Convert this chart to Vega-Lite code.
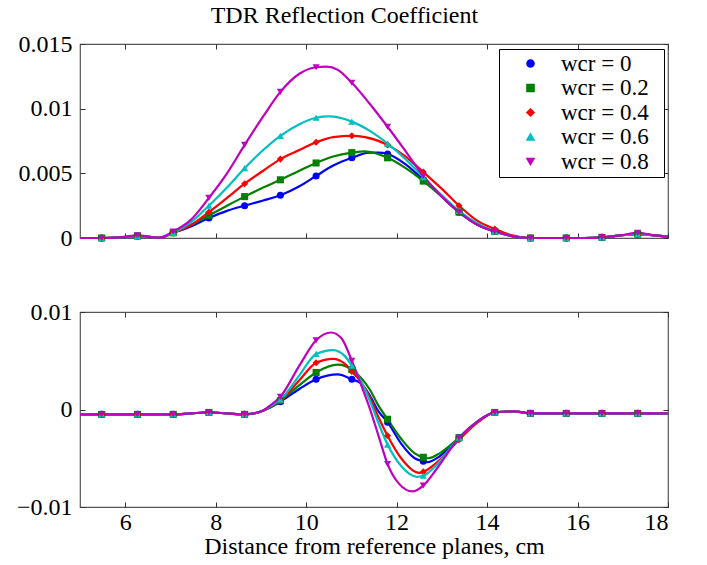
{
  "$schema": "https://vega.github.io/schema/vega-lite/v6.json",
  "padding": {"left": 15, "top": 4, "right": 39, "bottom": 2},
  "background": "white",
  "title": {"text": "TDR Reflection Coefficient", "anchor": "middle", "font": "Times New Roman", "fontSize": 24, "fontWeight": "normal", "color": "#000", "offset": 3},
  "config": {
    "font": "Times New Roman",
    "view": {"stroke": "#555", "strokeWidth": 1.2},
    "axis": {"grid": false, "domain": false, "tickColor": "#333", "tickSize": -5, "tickWidth": 1, "labelFontSize": 24, "labelColor": "#000", "titleFontSize": 24, "titleFontWeight": "normal", "titleColor": "#000"},
    "legend": {"orient": "none", "legendX": 419, "legendY": 5, "title": null, "labelFontSize": 23, "labelColor": "#000", "symbolSize": 50, "strokeColor": "#000", "fillColor": "#fff", "padding": 3, "rowPadding": 0.5, "labelOffset": 19, "symbolOffset": 17}
  },
  "spacing": 48,
  "datasets": {
    "top": [
      {"w":"0","x":5,"y":0},{"w":"0","x":5.48,"y":0,"m":1},{"w":"0","x":5.9,"y":0.00005},{"w":"0","x":6.27,"y":0.00015,"m":1},{"w":"0","x":6.75,"y":0.00002},{"w":"0","x":7.06,"y":0.0004,"m":1},{"w":"0","x":7.45,"y":0.0009},{"w":"0","x":7.85,"y":0.00155,"m":1},{"w":"0","x":8.25,"y":0.0021},{"w":"0","x":8.64,"y":0.0025,"m":1},{"w":"0","x":9.05,"y":0.0029},{"w":"0","x":9.43,"y":0.0033,"m":1},{"w":"0","x":9.85,"y":0.004},{"w":"0","x":10.22,"y":0.0048,"m":1},{"w":"0","x":10.6,"y":0.0056},{"w":"0","x":11.01,"y":0.0062,"m":1},{"w":"0","x":11.4,"y":0.0066},{"w":"0","x":11.6,"y":0.0066},{"w":"0","x":11.8,"y":0.0065,"m":1},{"w":"0","x":12.2,"y":0.0057},{"w":"0","x":12.59,"y":0.0045,"m":1},{"w":"0","x":13.0,"y":0.0032},{"w":"0","x":13.38,"y":0.002,"m":1},{"w":"0","x":13.8,"y":0.001},{"w":"0","x":14.17,"y":0.0005,"m":1},{"w":"0","x":14.55,"y":0.00015},{"w":"0","x":14.96,"y":0,"m":1},{"w":"0","x":15.35,"y":0},{"w":"0","x":15.75,"y":0,"m":1},{"w":"0","x":16.15,"y":0},{"w":"0","x":16.54,"y":0.00005,"m":1},{"w":"0","x":16.95,"y":0.0002},{"w":"0","x":17.33,"y":0.0003,"m":1},{"w":"0","x":17.7,"y":0.0002},{"w":"0","x":18,"y":0.0001},

      {"w":"0.2","x":5,"y":0},{"w":"0.2","x":5.48,"y":0,"m":1},{"w":"0.2","x":5.9,"y":0.00005},{"w":"0.2","x":6.27,"y":0.00015,"m":1},{"w":"0.2","x":6.75,"y":0.00002},{"w":"0.2","x":7.06,"y":0.0004,"m":1},{"w":"0.2","x":7.45,"y":0.001},{"w":"0.2","x":7.85,"y":0.00175,"m":1},{"w":"0.2","x":8.25,"y":0.0025},{"w":"0.2","x":8.64,"y":0.0032,"m":1},{"w":"0.2","x":9.05,"y":0.0039},{"w":"0.2","x":9.43,"y":0.0045,"m":1},{"w":"0.2","x":9.85,"y":0.0052},{"w":"0.2","x":10.22,"y":0.0058,"m":1},{"w":"0.2","x":10.6,"y":0.0063},{"w":"0.2","x":11.01,"y":0.0066,"m":1},{"w":"0.2","x":11.3,"y":0.0067},{"w":"0.2","x":11.8,"y":0.0062,"m":1},{"w":"0.2","x":12.2,"y":0.0054},{"w":"0.2","x":12.59,"y":0.0044,"m":1},{"w":"0.2","x":13.0,"y":0.0032},{"w":"0.2","x":13.38,"y":0.002,"m":1},{"w":"0.2","x":13.8,"y":0.001},{"w":"0.2","x":14.17,"y":0.0005,"m":1},{"w":"0.2","x":14.55,"y":0.00015},{"w":"0.2","x":14.96,"y":0,"m":1},{"w":"0.2","x":15.35,"y":0},{"w":"0.2","x":15.75,"y":0,"m":1},{"w":"0.2","x":16.15,"y":0},{"w":"0.2","x":16.54,"y":0.00005,"m":1},{"w":"0.2","x":16.95,"y":0.0002},{"w":"0.2","x":17.33,"y":0.0003,"m":1},{"w":"0.2","x":17.7,"y":0.0002},{"w":"0.2","x":18,"y":0.0001},

      {"w":"0.4","x":5,"y":0},{"w":"0.4","x":5.48,"y":0,"m":1},{"w":"0.4","x":5.9,"y":0.00005},{"w":"0.4","x":6.27,"y":0.00015,"m":1},{"w":"0.4","x":6.75,"y":0.00002},{"w":"0.4","x":7.06,"y":0.0004,"m":1},{"w":"0.4","x":7.45,"y":0.001},{"w":"0.4","x":7.85,"y":0.002,"m":1},{"w":"0.4","x":8.25,"y":0.0031},{"w":"0.4","x":8.64,"y":0.0042,"m":1},{"w":"0.4","x":9.05,"y":0.0052},{"w":"0.4","x":9.43,"y":0.0061,"m":1},{"w":"0.4","x":9.85,"y":0.0068},{"w":"0.4","x":10.22,"y":0.0074,"m":1},{"w":"0.4","x":10.6,"y":0.0078},{"w":"0.4","x":11.01,"y":0.0079,"m":1},{"w":"0.4","x":11.3,"y":0.0078},{"w":"0.4","x":11.8,"y":0.0072,"m":1},{"w":"0.4","x":12.2,"y":0.0063},{"w":"0.4","x":12.59,"y":0.0051,"m":1},{"w":"0.4","x":13.0,"y":0.0038},{"w":"0.4","x":13.38,"y":0.0025,"m":1},{"w":"0.4","x":13.8,"y":0.0013},{"w":"0.4","x":14.17,"y":0.0007,"m":1},{"w":"0.4","x":14.55,"y":0.0002},{"w":"0.4","x":14.96,"y":0,"m":1},{"w":"0.4","x":15.35,"y":0},{"w":"0.4","x":15.75,"y":0,"m":1},{"w":"0.4","x":16.15,"y":0},{"w":"0.4","x":16.54,"y":0.00005,"m":1},{"w":"0.4","x":16.95,"y":0.0002},{"w":"0.4","x":17.33,"y":0.0003,"m":1},{"w":"0.4","x":17.7,"y":0.0002},{"w":"0.4","x":18,"y":0.0001},

      {"w":"0.6","x":5,"y":0},{"w":"0.6","x":5.48,"y":0,"m":1},{"w":"0.6","x":5.9,"y":0.00005},{"w":"0.6","x":6.27,"y":0.00015,"m":1},{"w":"0.6","x":6.75,"y":0.00002},{"w":"0.6","x":7.06,"y":0.0004,"m":1},{"w":"0.6","x":7.45,"y":0.0012},{"w":"0.6","x":7.85,"y":0.0025,"m":1},{"w":"0.6","x":8.25,"y":0.0039},{"w":"0.6","x":8.64,"y":0.0054,"m":1},{"w":"0.6","x":9.05,"y":0.0068},{"w":"0.6","x":9.43,"y":0.0079,"m":1},{"w":"0.6","x":9.85,"y":0.0088},{"w":"0.6","x":10.22,"y":0.0093,"m":1},{"w":"0.6","x":10.5,"y":0.0094},{"w":"0.6","x":11.01,"y":0.009,"m":1},{"w":"0.6","x":11.4,"y":0.0083},{"w":"0.6","x":11.8,"y":0.0073,"m":1},{"w":"0.6","x":12.2,"y":0.0061},{"w":"0.6","x":12.59,"y":0.0047,"m":1},{"w":"0.6","x":13.0,"y":0.0033},{"w":"0.6","x":13.38,"y":0.0021,"m":1},{"w":"0.6","x":13.8,"y":0.0011},{"w":"0.6","x":14.17,"y":0.0005,"m":1},{"w":"0.6","x":14.55,"y":0.00015},{"w":"0.6","x":14.96,"y":0,"m":1},{"w":"0.6","x":15.35,"y":0},{"w":"0.6","x":15.75,"y":0,"m":1},{"w":"0.6","x":16.15,"y":0},{"w":"0.6","x":16.54,"y":0.00005,"m":1},{"w":"0.6","x":16.95,"y":0.0002},{"w":"0.6","x":17.33,"y":0.0003,"m":1},{"w":"0.6","x":17.7,"y":0.0002},{"w":"0.6","x":18,"y":0.0001},

      {"w":"0.8","x":5,"y":0},{"w":"0.8","x":5.48,"y":0,"m":1},{"w":"0.8","x":5.9,"y":0.00005},{"w":"0.8","x":6.27,"y":0.0002,"m":1},{"w":"0.8","x":6.75,"y":0.00002},{"w":"0.8","x":7.06,"y":0.0005,"m":1},{"w":"0.8","x":7.45,"y":0.0014},{"w":"0.8","x":7.85,"y":0.0031,"m":1},{"w":"0.8","x":8.25,"y":0.005},{"w":"0.8","x":8.64,"y":0.0072,"m":1},{"w":"0.8","x":9.05,"y":0.0094},{"w":"0.8","x":9.43,"y":0.0113,"m":1},{"w":"0.8","x":9.85,"y":0.0127},{"w":"0.8","x":10.22,"y":0.0132,"m":1},{"w":"0.8","x":10.45,"y":0.01325},{"w":"0.8","x":10.7,"y":0.013},{"w":"0.8","x":11.01,"y":0.012,"m":1},{"w":"0.8","x":11.4,"y":0.0104},{"w":"0.8","x":11.8,"y":0.0086,"m":1},{"w":"0.8","x":12.2,"y":0.0067},{"w":"0.8","x":12.59,"y":0.0048,"m":1},{"w":"0.8","x":13.0,"y":0.0032},{"w":"0.8","x":13.38,"y":0.002,"m":1},{"w":"0.8","x":13.8,"y":0.001},{"w":"0.8","x":14.17,"y":0.0005,"m":1},{"w":"0.8","x":14.55,"y":0.00015},{"w":"0.8","x":14.96,"y":0,"m":1},{"w":"0.8","x":15.35,"y":0},{"w":"0.8","x":15.75,"y":0,"m":1},{"w":"0.8","x":16.15,"y":0},{"w":"0.8","x":16.54,"y":0.00005,"m":1},{"w":"0.8","x":16.95,"y":0.0002},{"w":"0.8","x":17.33,"y":0.0004,"m":1},{"w":"0.8","x":17.7,"y":0.0002},{"w":"0.8","x":18,"y":0.0001}
    ],
    "bot": [
      {"w":"0","x":5,"y":-0.0005},{"w":"0","x":5.48,"y":-0.0005,"m":1},{"w":"0","x":5.9,"y":-0.0005},{"w":"0","x":6.27,"y":-0.0005,"m":1},{"w":"0","x":6.7,"y":-0.0005},{"w":"0","x":7.06,"y":-0.0005,"m":1},{"w":"0","x":7.45,"y":-0.0004},{"w":"0","x":7.85,"y":-0.0003,"m":1},{"w":"0","x":8.25,"y":-0.0004},{"w":"0","x":8.64,"y":-0.0005,"m":1},{"w":"0","x":9.0,"y":-0.0002},{"w":"0","x":9.2,"y":0.0002},{"w":"0","x":9.43,"y":0.0008,"m":1},{"w":"0","x":9.85,"y":0.0021},{"w":"0","x":10.22,"y":0.0031,"m":1},{"w":"0","x":10.7,"y":0.0036},{"w":"0","x":11.01,"y":0.0031,"m":1},{"w":"0","x":11.2,"y":0.0027},{"w":"0","x":11.4,"y":0.0015},{"w":"0","x":11.6,"y":-0.0002},{"w":"0","x":11.8,"y":-0.0013,"m":1},{"w":"0","x":12.1,"y":-0.0035},{"w":"0","x":12.4,"y":-0.005},{"w":"0","x":12.59,"y":-0.0053,"m":1},{"w":"0","x":12.68,"y":-0.0054},{"w":"0","x":12.95,"y":-0.0048},{"w":"0","x":13.38,"y":-0.0029,"m":1},{"w":"0","x":13.8,"y":-0.0012},{"w":"0","x":14.17,"y":-0.0003,"m":1},{"w":"0","x":14.6,"y":-0.0002},{"w":"0","x":14.96,"y":-0.0004,"m":1},{"w":"0","x":15.35,"y":-0.0004},{"w":"0","x":15.75,"y":-0.0004,"m":1},{"w":"0","x":16.15,"y":-0.0004},{"w":"0","x":16.54,"y":-0.0004,"m":1},{"w":"0","x":16.95,"y":-0.0004},{"w":"0","x":17.33,"y":-0.0004,"m":1},{"w":"0","x":18,"y":-0.0004},

      {"w":"0.2","x":5,"y":-0.0005},{"w":"0.2","x":5.48,"y":-0.0005,"m":1},{"w":"0.2","x":5.9,"y":-0.0005},{"w":"0.2","x":6.27,"y":-0.0005,"m":1},{"w":"0.2","x":6.7,"y":-0.0005},{"w":"0.2","x":7.06,"y":-0.0005,"m":1},{"w":"0.2","x":7.45,"y":-0.0004},{"w":"0.2","x":7.85,"y":-0.0003,"m":1},{"w":"0.2","x":8.25,"y":-0.0004},{"w":"0.2","x":8.64,"y":-0.0005,"m":1},{"w":"0.2","x":9.0,"y":-0.0002},{"w":"0.2","x":9.2,"y":0.0002},{"w":"0.2","x":9.43,"y":0.0009,"m":1},{"w":"0.2","x":9.85,"y":0.0025},{"w":"0.2","x":10.22,"y":0.0038,"m":1},{"w":"0.2","x":10.7,"y":0.0046},{"w":"0.2","x":11.01,"y":0.0041,"m":1},{"w":"0.2","x":11.2,"y":0.0033},{"w":"0.2","x":11.4,"y":0.0021},{"w":"0.2","x":11.6,"y":0.0004},{"w":"0.2","x":11.8,"y":-0.001,"m":1},{"w":"0.2","x":12.1,"y":-0.003},{"w":"0.2","x":12.4,"y":-0.0045},{"w":"0.2","x":12.59,"y":-0.0049,"m":1},{"w":"0.2","x":12.7,"y":-0.005},{"w":"0.2","x":12.95,"y":-0.0045},{"w":"0.2","x":13.38,"y":-0.0029,"m":1},{"w":"0.2","x":13.8,"y":-0.0012},{"w":"0.2","x":14.17,"y":-0.0003,"m":1},{"w":"0.2","x":14.6,"y":-0.0002},{"w":"0.2","x":14.96,"y":-0.0004,"m":1},{"w":"0.2","x":15.35,"y":-0.0004},{"w":"0.2","x":15.75,"y":-0.0004,"m":1},{"w":"0.2","x":16.15,"y":-0.0004},{"w":"0.2","x":16.54,"y":-0.0004,"m":1},{"w":"0.2","x":16.95,"y":-0.0004},{"w":"0.2","x":17.33,"y":-0.0004,"m":1},{"w":"0.2","x":18,"y":-0.0004},

      {"w":"0.4","x":5,"y":-0.0005},{"w":"0.4","x":5.48,"y":-0.0005,"m":1},{"w":"0.4","x":5.9,"y":-0.0005},{"w":"0.4","x":6.27,"y":-0.0005,"m":1},{"w":"0.4","x":6.7,"y":-0.0005},{"w":"0.4","x":7.06,"y":-0.0005,"m":1},{"w":"0.4","x":7.45,"y":-0.0004},{"w":"0.4","x":7.85,"y":-0.0003,"m":1},{"w":"0.4","x":8.25,"y":-0.0004},{"w":"0.4","x":8.64,"y":-0.0005,"m":1},{"w":"0.4","x":9.0,"y":-0.0002},{"w":"0.4","x":9.2,"y":0.0003},{"w":"0.4","x":9.43,"y":0.0009,"m":1},{"w":"0.4","x":9.85,"y":0.003},{"w":"0.4","x":10.22,"y":0.0048,"m":1},{"w":"0.4","x":10.6,"y":0.0052},{"w":"0.4","x":10.85,"y":0.0047},{"w":"0.4","x":11.01,"y":0.0039,"m":1},{"w":"0.4","x":11.2,"y":0.0029},{"w":"0.4","x":11.4,"y":0.0013},{"w":"0.4","x":11.6,"y":-0.0008},{"w":"0.4","x":11.8,"y":-0.0027,"m":1},{"w":"0.4","x":12.1,"y":-0.005},{"w":"0.4","x":12.5,"y":-0.0065},{"w":"0.4","x":12.59,"y":-0.0064,"m":1},{"w":"0.4","x":12.9,"y":-0.0054},{"w":"0.4","x":13.38,"y":-0.0031,"m":1},{"w":"0.4","x":13.8,"y":-0.0013},{"w":"0.4","x":14.17,"y":-0.0003,"m":1},{"w":"0.4","x":14.6,"y":-0.0002},{"w":"0.4","x":14.96,"y":-0.0004,"m":1},{"w":"0.4","x":15.35,"y":-0.0004},{"w":"0.4","x":15.75,"y":-0.0004,"m":1},{"w":"0.4","x":16.15,"y":-0.0004},{"w":"0.4","x":16.54,"y":-0.0004,"m":1},{"w":"0.4","x":16.95,"y":-0.0004},{"w":"0.4","x":17.33,"y":-0.0004,"m":1},{"w":"0.4","x":18,"y":-0.0004},

      {"w":"0.6","x":5,"y":-0.0005},{"w":"0.6","x":5.48,"y":-0.0005,"m":1},{"w":"0.6","x":5.9,"y":-0.0005},{"w":"0.6","x":6.27,"y":-0.0005,"m":1},{"w":"0.6","x":6.7,"y":-0.0005},{"w":"0.6","x":7.06,"y":-0.0005,"m":1},{"w":"0.6","x":7.45,"y":-0.0004},{"w":"0.6","x":7.85,"y":-0.0003,"m":1},{"w":"0.6","x":8.25,"y":-0.0004},{"w":"0.6","x":8.64,"y":-0.0005,"m":1},{"w":"0.6","x":9.0,"y":-0.0002},{"w":"0.6","x":9.2,"y":0.0003},{"w":"0.6","x":9.43,"y":0.001,"m":1},{"w":"0.6","x":9.85,"y":0.0035},{"w":"0.6","x":10.22,"y":0.0057,"m":1},{"w":"0.6","x":10.6,"y":0.0061},{"w":"0.6","x":10.85,"y":0.0055},{"w":"0.6","x":11.01,"y":0.0045,"m":1},{"w":"0.6","x":11.2,"y":0.003},{"w":"0.6","x":11.4,"y":0.001},{"w":"0.6","x":11.6,"y":-0.0014},{"w":"0.6","x":11.8,"y":-0.0036,"m":1},{"w":"0.6","x":12.1,"y":-0.0058},{"w":"0.6","x":12.45,"y":-0.0069},{"w":"0.6","x":12.59,"y":-0.0068,"m":1},{"w":"0.6","x":12.9,"y":-0.0056},{"w":"0.6","x":13.38,"y":-0.0029,"m":1},{"w":"0.6","x":13.8,"y":-0.0012},{"w":"0.6","x":14.17,"y":-0.0003,"m":1},{"w":"0.6","x":14.6,"y":-0.0002},{"w":"0.6","x":14.96,"y":-0.0004,"m":1},{"w":"0.6","x":15.35,"y":-0.0004},{"w":"0.6","x":15.75,"y":-0.0004,"m":1},{"w":"0.6","x":16.15,"y":-0.0004},{"w":"0.6","x":16.54,"y":-0.0004,"m":1},{"w":"0.6","x":16.95,"y":-0.0004},{"w":"0.6","x":17.33,"y":-0.0004,"m":1},{"w":"0.6","x":18,"y":-0.0004},

      {"w":"0.8","x":5,"y":-0.0005},{"w":"0.8","x":5.48,"y":-0.0005,"m":1},{"w":"0.8","x":5.9,"y":-0.0005},{"w":"0.8","x":6.27,"y":-0.0005,"m":1},{"w":"0.8","x":6.7,"y":-0.0005},{"w":"0.8","x":7.06,"y":-0.0005,"m":1},{"w":"0.8","x":7.45,"y":-0.0004},{"w":"0.8","x":7.85,"y":-0.0003,"m":1},{"w":"0.8","x":8.25,"y":-0.0004},{"w":"0.8","x":8.64,"y":-0.0005,"m":1},{"w":"0.8","x":9.0,"y":-0.0002},{"w":"0.8","x":9.2,"y":0.0004},{"w":"0.8","x":9.43,"y":0.0013,"m":1},{"w":"0.8","x":9.85,"y":0.0045},{"w":"0.8","x":10.22,"y":0.0071,"m":1},{"w":"0.8","x":10.55,"y":0.0079},{"w":"0.8","x":10.78,"y":0.0073},{"w":"0.8","x":11.01,"y":0.005,"m":1},{"w":"0.8","x":11.2,"y":0.0027},{"w":"0.8","x":11.4,"y":0.0002},{"w":"0.8","x":11.6,"y":-0.0027},{"w":"0.8","x":11.8,"y":-0.0056,"m":1},{"w":"0.8","x":12.05,"y":-0.0076},{"w":"0.8","x":12.35,"y":-0.0084},{"w":"0.8","x":12.59,"y":-0.0078,"m":1},{"w":"0.8","x":12.9,"y":-0.006},{"w":"0.8","x":13.38,"y":-0.0029,"m":1},{"w":"0.8","x":13.8,"y":-0.0012},{"w":"0.8","x":14.17,"y":-0.0003,"m":1},{"w":"0.8","x":14.6,"y":-0.0002},{"w":"0.8","x":14.96,"y":-0.0004,"m":1},{"w":"0.8","x":15.35,"y":-0.0004},{"w":"0.8","x":15.75,"y":-0.0004,"m":1},{"w":"0.8","x":16.15,"y":-0.0004},{"w":"0.8","x":16.54,"y":-0.0004,"m":1},{"w":"0.8","x":16.95,"y":-0.0004},{"w":"0.8","x":17.33,"y":-0.0004,"m":1},{"w":"0.8","x":18,"y":-0.0004}
    ]
  },
  "vconcat": [
    {
      "width": 588,
      "height": 194,
      "data": {"name": "top"},
      "resolve": {"axis": {"x": "independent", "y": "independent"}},
      "layer": [
        {
          "mark": {"type": "line", "interpolate": "monotone", "strokeWidth": 2.2},
          "encoding": {
            "x": {"field": "x", "type": "quantitative", "scale": {"domain": [5, 18], "nice": false, "zero": false}, "axis": {"orient": "bottom", "values": [6, 8, 10, 12, 14, 16, 18], "labels": false, "title": null}},
            "y": {"field": "y", "type": "quantitative", "scale": {"domain": [0, 0.015], "nice": false}, "axis": {"orient": "left", "values": [0, 0.005, 0.01, 0.015], "format": ".3~f", "labelPadding": 13, "labelFont": "Times New Roman", "title": null}},
            "color": {"field": "w", "type": "nominal", "scale": {"domain": ["0", "0.2", "0.4", "0.6", "0.8"], "range": ["#0000ff", "#008000", "#ff0000", "#00bfbf", "#bf00bf"]}}
          }
        },
        {
          "transform": [{"filter": "datum.m == 1"}],
          "mark": {"type": "point", "filled": true, "opacity": 1, "size": 50},
          "encoding": {
            "x": {"field": "x", "type": "quantitative", "axis": {"orient": "top", "values": [6, 8, 10, 12, 14, 16, 18], "labels": false, "title": null}},
            "y": {"field": "y", "type": "quantitative", "axis": {"orient": "right", "values": [0, 0.005, 0.01, 0.015], "labels": false, "title": null}},
            "color": {"field": "w", "type": "nominal", "legend": {"labelExpr": "'wcr  =  ' + datum.label", "labelFont": "Times New Roman"}},
            "shape": {"field": "w", "type": "nominal", "scale": {"domain": ["0", "0.2", "0.4", "0.6", "0.8"], "range": ["circle", "square", "diamond", "triangle-up", "triangle-down"]}, "legend": {"labelExpr": "'wcr  =  ' + datum.label", "labelFont": "Times New Roman"}}
          }
        }
      ]
    },
    {
      "width": 588,
      "height": 195,
      "data": {"name": "bot"},
      "resolve": {"axis": {"x": "independent", "y": "independent"}},
      "layer": [
        {
          "mark": {"type": "line", "interpolate": "monotone", "strokeWidth": 2.2},
          "encoding": {
            "x": {"field": "x", "type": "quantitative", "scale": {"domain": [5, 18], "nice": false, "zero": false}, "axis": {"orient": "bottom", "values": [6, 8, 10, 12, 14, 16, 18], "labelPadding": 8, "labelFont": "Times New Roman", "titleFont": "Times New Roman", "title": "Distance from reference planes, cm", "titlePadding": 0}},
            "y": {"field": "y", "type": "quantitative", "scale": {"domain": [-0.01, 0.01], "nice": false}, "axis": {"orient": "left", "values": [-0.01, 0, 0.01], "format": ".3~f", "labelPadding": 13, "labelFont": "Times New Roman", "title": null}},
            "color": {"field": "w", "type": "nominal"}
          }
        },
        {
          "transform": [{"filter": "datum.m == 1"}],
          "mark": {"type": "point", "filled": true, "opacity": 1, "size": 50},
          "encoding": {
            "x": {"field": "x", "type": "quantitative", "axis": {"orient": "top", "values": [6, 8, 10, 12, 14, 16, 18], "labels": false, "title": null}},
            "y": {"field": "y", "type": "quantitative", "axis": {"orient": "right", "values": [-0.01, 0, 0.01], "labels": false, "title": null}},
            "color": {"field": "w", "type": "nominal"},
            "shape": {"field": "w", "type": "nominal"}
          }
        }
      ]
    }
  ]
}
